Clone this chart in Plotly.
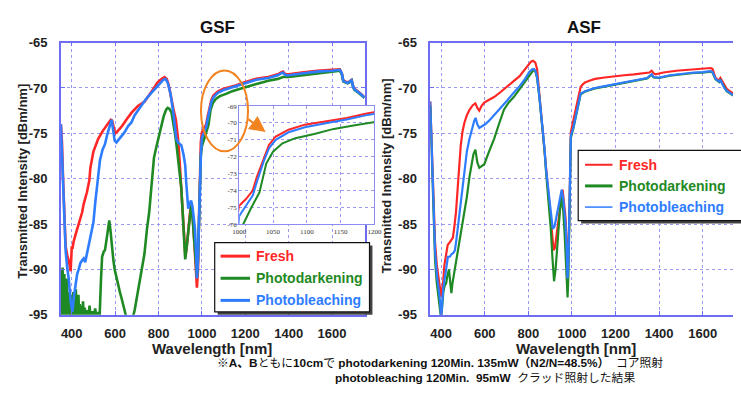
import plotly.graph_objects as go

W, H = 741, 394

# ---------------- GSF fiber spectra (wavelength [nm], intensity [dBm/nm]) ----------------
gsf_fresh_wl = [350, 355, 360, 365, 372, 380, 388, 395, 400, 404, 409, 422, 436, 448, 455, 470, 481,
                486, 500, 522, 544, 568, 580, 586, 592, 600, 610, 632, 655, 677, 705, 736, 768, 795,
                815, 828, 838, 846, 853, 860, 870, 880, 890, 897, 905, 913, 918, 924, 930, 940, 950,
                956, 962, 970, 977, 982, 987, 991, 995, 1000, 1010, 1020, 1026, 1036, 1044, 1054,
                1073, 1097, 1130, 1159, 1187, 1200, 1216, 1250, 1306, 1350, 1365, 1374, 1385, 1400,
                1460, 1532, 1600, 1636, 1645, 1652, 1672, 1680, 1690, 1697, 1703, 1720, 1740, 1750]
gsf_fresh_db = [-74.0, -76.0, -80.0, -84.0, -87.5, -88.5, -89.2, -90.2, -87.6, -87.6, -86.9, -85.8,
                -84.7, -83.7, -82.8, -81.5, -80.2, -78.8, -77.0, -75.6, -74.7, -73.8, -73.5, -73.6,
                -74.3, -75.0, -74.8, -74.2, -73.4, -72.7, -72.0, -71.5, -70.4, -69.4, -69.0, -68.8,
                -69.0, -69.6, -70.4, -71.4, -72.5, -73.5, -75.6, -78.0, -81.0, -84.5, -87.0, -88.6,
                -87.5, -85.0, -82.6, -83.5, -85.5, -89.0, -92.0, -90.0, -84.0, -79.0, -76.0, -74.9,
                -74.5, -74.0, -73.2, -72.1, -71.3, -70.8, -70.4, -70.1, -69.9, -69.7, -69.45, -69.35,
                -69.2, -69.0, -68.8, -68.5, -68.3, -68.2, -68.5, -68.5, -68.3, -68.1, -68.0, -67.95,
                -68.4, -69.2, -69.4, -69.3, -69.1, -69.8, -70.1, -70.4, -70.8, -71.0]

gsf_dark_wl = [350, 352, 354, 356, 358, 360, 362, 364, 366, 368, 370, 372, 374, 376, 378, 380, 383,
               386, 389, 392, 395, 398, 401, 404, 407, 410, 413, 416, 419, 422, 425, 428, 431, 434,
               437, 440, 444, 448, 452, 456, 460, 464, 470, 476, 482, 488, 494, 500, 508, 515, 522,
               528, 535, 540, 548, 553, 560, 567, 573, 579, 585, 592, 598, 605, 614, 622, 630, 638,
               645, 652, 665, 680, 690, 703, 718, 735, 747, 757, 765, 779, 790, 800, 812, 824, 835,
               842, 850, 860, 870, 877, 884, 891, 898, 905, 912, 918, 923, 930, 940, 950, 956, 962,
               970, 977, 982, 987, 991, 995, 1000, 1007, 1018, 1030, 1040, 1050, 1064, 1083, 1111,
               1140, 1169, 1187, 1200, 1216, 1260, 1306, 1350, 1374, 1400, 1460, 1532, 1600, 1636,
               1645, 1652, 1672, 1680, 1690, 1697, 1703, 1720, 1740, 1750]
gsf_dark_db = [-91.5, -95.5, -90.0, -94.0, -89.8, -95.5, -91.0, -94.5, -90.5, -95.5, -91.5, -94.0,
               -92.0, -95.5, -91.0, -95.5, -92.5, -95.5, -93.0, -95.5, -92.8, -95.5, -93.5, -95.5,
               -92.5, -95.5, -93.0, -95.5, -92.2, -94.5, -93.5, -95.5, -92.8, -95.5, -93.8, -95.5,
               -94.0, -95.5, -93.5, -95.5, -94.2, -95.5, -94.5, -95.5, -94.0, -95.5, -94.6, -95.5,
               -94.3, -95.5, -94.7, -95.5, -91.0, -88.6, -88.0, -87.9, -86.8, -85.8, -84.6, -85.8,
               -87.6, -89.0, -90.0, -90.8, -91.5, -92.5, -93.2, -94.0, -94.8, -95.3, -95.5, -95.4,
               -94.5, -92.6, -90.5, -88.3, -85.5, -83.7, -81.5, -77.7, -76.5, -75.6, -74.3, -73.1,
               -72.4, -72.2, -72.3, -72.7, -74.0, -75.2, -76.5, -78.0, -79.5, -81.0, -84.0, -87.5,
               -88.9, -87.5, -85.0, -83.0, -84.0, -86.0, -89.0, -90.8, -89.0, -84.0, -80.0, -77.5,
               -76.4, -75.9, -75.0, -74.1, -72.4, -71.7, -71.2, -70.9, -70.65, -70.35, -70.15, -70.0,
               -69.9, -69.8, -69.5, -69.2, -69.0, -68.8, -68.8, -68.6, -68.4, -68.2, -68.1, -68.5,
               -69.3, -69.5, -69.4, -69.2, -69.9, -70.2, -70.5, -70.9, -71.1]

gsf_bleach_wl = [350, 355, 360, 365, 372, 380, 386, 395, 403, 410, 418, 425, 432, 440, 448, 455, 462,
                 470, 478, 488, 500, 509, 518, 530, 542, 553, 563, 571, 578, 584, 590, 598, 606, 620,
                 643, 660, 675, 690, 705, 720, 740, 765, 790, 810, 822, 832, 842, 855, 862, 868, 876,
                 882, 890, 905, 915, 923, 928, 932, 937, 943, 950, 956, 962, 968, 973, 977, 981, 985,
                 990, 995, 1000, 1010, 1020, 1026, 1036, 1044, 1054, 1073, 1097, 1130, 1159, 1187,
                 1200, 1216, 1250, 1306, 1350, 1365, 1374, 1385, 1400, 1460, 1532, 1600, 1636, 1645,
                 1652, 1672, 1680, 1690, 1697, 1703, 1720, 1740, 1750]
gsf_bleach_db = [-74.0, -77.0, -81.0, -84.5, -88.0, -90.0, -91.0, -93.5, -94.7, -93.0, -91.5, -90.5,
                 -90.0, -89.3, -89.0, -88.8, -89.2, -88.3, -87.6, -86.2, -84.8, -82.5, -80.5, -78.0,
                 -76.8, -76.2, -75.2, -74.5, -73.8, -73.5, -74.5, -75.8, -76.0, -75.6, -74.9, -74.2,
                 -73.8, -73.0, -72.5, -71.9, -71.3, -70.6, -69.9, -69.4, -69.1, -69.0, -69.4, -70.6,
                 -71.6, -72.7, -74.3, -75.6, -76.0, -76.3, -77.3, -78.5, -80.5, -82.5, -83.3, -82.8,
                 -82.4, -83.0, -84.0, -85.5, -88.0, -91.0, -89.5, -86.0, -80.0, -77.5, -75.5, -74.9,
                 -74.3, -73.5, -72.3, -71.5, -71.0, -70.55, -70.25, -70.0, -69.8, -69.55, -69.45,
                 -69.3, -69.1, -68.9, -68.6, -68.4, -68.3, -68.6, -68.6, -68.4, -68.2, -68.1, -68.0,
                 -68.4, -69.25, -69.45, -69.35, -69.15, -69.85, -70.15, -70.45, -70.85, -71.05]

# ---------------- ASF fiber spectra ----------------
asf_fresh_wl = [350, 355, 360, 366, 372, 380, 388, 395, 400, 405, 409, 415, 422, 430, 440, 447, 454,
                461, 468, 476, 483, 490, 498, 507, 518, 530, 545, 557, 566, 575, 585, 598, 620, 643,
                670, 702, 730, 760, 780, 800, 812, 822, 832, 840, 850, 858, 867, 874, 881, 888, 895,
                903, 910, 916, 922, 930, 940, 948, 957, 963, 971, 976, 980, 984, 988, 991, 995, 1007,
                1015, 1024, 1032, 1040, 1050, 1060, 1080, 1106, 1150, 1195, 1240, 1285, 1330, 1355,
                1366, 1375, 1384, 1420, 1479, 1530, 1587, 1620, 1636, 1645, 1652, 1659, 1670, 1676,
                1681, 1688, 1699, 1710, 1721, 1740]
asf_fresh_db = [-71.5, -75.0, -79.0, -84.0, -87.0, -89.5, -91.0, -92.5, -93.0, -92.0, -91.5, -89.5,
                -88.3, -87.3, -87.0, -86.8, -86.5, -85.2, -83.7, -81.0, -78.5, -76.3, -74.8, -73.8,
                -73.0, -72.4, -71.9, -71.7, -72.2, -72.5, -72.0, -71.6, -71.3, -71.0, -70.5, -69.9,
                -69.3, -68.7, -68.1, -67.4, -67.1, -67.0, -67.2, -67.9, -70.6, -72.5, -74.5, -76.5,
                -78.8, -80.5, -82.0, -84.5, -86.8, -87.9, -87.6, -86.0, -84.4, -82.5, -81.2, -82.5,
                -84.4, -87.0, -90.8, -89.0, -83.0, -77.0, -74.9, -73.5, -72.6, -71.4, -70.5, -69.9,
                -69.6, -69.4, -69.2, -69.0, -68.85, -68.7, -68.6, -68.5, -68.4, -68.3, -68.1, -68.4,
                -68.5, -68.3, -68.1, -68.0, -67.9, -67.85, -67.8, -67.9, -68.5, -68.9, -69.1, -69.1,
                -68.9, -69.2, -69.8, -70.1, -70.3, -70.6]

asf_dark_wl = [350, 355, 360, 366, 372, 380, 388, 395, 400, 405, 410, 416, 423, 430, 436, 442, 447,
               452, 457, 463, 470, 478, 485, 495, 507, 518, 530, 540, 548, 557, 566, 575, 588, 598,
               620, 643, 665, 688, 710, 733, 755, 778, 800, 815, 827, 833, 840, 850, 858, 867, 874,
               881, 888, 895, 903, 910, 918, 925, 935, 945, 953, 960, 966, 971, 976, 980, 984, 988,
               991, 995, 1007, 1015, 1024, 1032, 1040, 1050, 1060, 1080, 1106, 1150, 1195, 1240,
               1285, 1330, 1345, 1355, 1366, 1375, 1400, 1450, 1510, 1560, 1600, 1636, 1645, 1652,
               1659, 1670, 1676, 1681, 1688, 1699, 1710, 1721, 1740]
asf_dark_db = [-72.0, -76.0, -81.0, -86.0, -89.0, -91.5, -93.0, -94.5, -95.5, -94.0, -92.5, -91.8,
               -91.5, -90.5, -90.0, -91.5, -92.6, -91.5, -90.8, -90.0, -88.8, -87.6, -86.5, -85.2,
               -83.7, -82.0, -79.8, -78.3, -77.3, -76.8, -78.2, -78.8, -78.6, -78.4, -77.0, -75.6,
               -74.0, -72.4, -71.6, -71.0, -70.3, -69.6, -68.8, -68.3, -68.0, -68.2, -68.9, -70.9,
               -72.7, -74.7, -76.8, -79.2, -81.0, -82.8, -85.5, -88.5, -91.3, -90.0, -86.5, -83.5,
               -82.0, -83.5, -85.8, -87.9, -90.5, -93.1, -90.5, -84.0, -78.5, -75.5, -74.4, -73.4,
               -72.3, -71.3, -70.7, -70.55, -70.4, -70.25, -70.05, -69.85, -69.65, -69.45, -69.25,
               -69.05, -68.95, -68.75, -68.55, -68.85, -68.9, -68.65, -68.45, -68.35, -68.3, -68.2,
               -68.3, -68.75, -69.05, -69.25, -69.35, -69.15, -69.45, -70.05, -70.35, -70.55, -70.85]

asf_bleach_wl = [350, 355, 360, 366, 372, 380, 388, 395, 400, 405, 410, 418, 425, 431, 440, 448, 455,
                 463, 470, 476, 483, 490, 498, 507, 518, 530, 542, 552, 558, 566, 575, 588, 602, 620,
                 643, 670, 702, 730, 760, 785, 805, 818, 825, 832, 840, 850, 858, 867, 874, 881, 888,
                 895, 903, 912, 920, 930, 940, 953, 960, 966, 971, 976, 980, 984, 988, 991, 995, 1007,
                 1015, 1024, 1032, 1040, 1050, 1060, 1080, 1106, 1150, 1195, 1240, 1285, 1330, 1345,
                 1355, 1366, 1375, 1400, 1450, 1510, 1560, 1600, 1636, 1645, 1652, 1659, 1670, 1676,
                 1681, 1688, 1699, 1710, 1721, 1740]
asf_bleach_db = [-71.5, -75.0, -80.0, -85.0, -88.0, -90.5, -92.0, -93.5, -95.5, -93.5, -92.0, -90.8,
                 -89.5, -88.6, -88.6, -88.3, -88.2, -87.9, -86.7, -85.5, -84.2, -82.6, -81.0, -78.8,
                 -77.0, -75.6, -74.4, -73.6, -73.3, -74.0, -74.4, -74.2, -74.0, -73.6, -73.0, -72.3,
                 -71.4, -70.6, -69.8, -69.0, -68.2, -67.95, -67.9, -68.1, -68.8, -70.8, -72.6, -74.6,
                 -76.6, -78.9, -80.5, -82.2, -84.2, -85.5, -85.3, -84.0, -82.8, -81.2, -82.2, -83.5,
                 -85.1, -88.0, -91.0, -89.0, -83.0, -78.0, -75.3, -74.3, -73.3, -72.2, -71.2, -70.6,
                 -70.5, -70.35, -70.2, -70.0, -69.8, -69.6, -69.4, -69.2, -69.0, -68.9, -68.7, -68.5,
                 -68.8, -68.85, -68.6, -68.4, -68.3, -68.25, -68.15, -68.25, -68.7, -69.0, -69.2,
                 -69.3, -69.1, -69.4, -70.0, -70.3, -70.5, -70.8]

# ---------------- axis ticks ----------------
x_ticks = [400, 600, 800, 1000, 1200, 1400, 1600]
y_ticks = [-65, -70, -75, -80, -85, -90, -95]
inset_x_ticks = [1000, 1050, 1100, 1150, 1200]
inset_y_ticks = [-69, -70, -71, -72, -73, -74, -75, -76]

series_names = ["Fresh", "Photodarkening", "Photobleaching"]

RED = "#ff2626"
GREEN = "#1f8a24"
BLUE = "#2f7dff"
ORANGE = "#f28321"
FRAME = "#6e6ef2"
GRID = "#9a9af2"
SANS = "Arial, Liberation Sans, sans-serif"


def px(x):
    return x / W


def py(y):
    return 1 - y / H


fig = go.Figure()

# main GSF panel
for wl, db, col in [(gsf_fresh_wl, gsf_fresh_db, RED),
                    (gsf_dark_wl, gsf_dark_db, GREEN),
                    (gsf_bleach_wl, gsf_bleach_db, BLUE)]:
    fig.add_trace(go.Scatter(x=wl, y=db, mode="lines", line=dict(color=col, width=2.6),
                             xaxis="x", yaxis="y", showlegend=False, hoverinfo="skip"))

# ASF panel
for wl, db, col in [(asf_fresh_wl, asf_fresh_db, RED),
                    (asf_dark_wl, asf_dark_db, GREEN),
                    (asf_bleach_wl, asf_bleach_db, BLUE)]:
    fig.add_trace(go.Scatter(x=wl, y=db, mode="lines", line=dict(color=col, width=2.2),
                             xaxis="x2", yaxis="y2", showlegend=False, hoverinfo="skip"))

# zoomed inset of the GSF 1000-1200 nm region
for wl, db, col in [(gsf_fresh_wl, gsf_fresh_db, RED),
                    (gsf_dark_wl, gsf_dark_db, GREEN),
                    (gsf_bleach_wl, gsf_bleach_db, BLUE)]:
    fig.add_trace(go.Scatter(x=wl, y=db, mode="lines", line=dict(color=col, width=2),
                             xaxis="x3", yaxis="y3", showlegend=False, hoverinfo="skip"))

tickfont = dict(family=SANS, size=13, color="#222222", weight="bold")


def main_x(domain, rng, anchor):
    return dict(domain=domain, range=rng, anchor=anchor, tickvals=x_ticks,
                ticktext=[str(t) for t in x_ticks], tickfont=tickfont,
                showgrid=True, gridcolor=GRID, griddash="dot", gridwidth=1,
                showline=True, linecolor=FRAME, linewidth=1.5, mirror="ticks",
                ticks="inside", ticklen=4, tickcolor=FRAME, zeroline=False,
                ticklabelstandoff=6)


def main_y(domain, anchor, mirror):
    return dict(domain=domain, range=[-95, -65], anchor=anchor, tickvals=y_ticks,
                ticktext=[str(t) for t in y_ticks], tickfont=tickfont,
                showgrid=True, gridcolor=GRID, griddash="dot", gridwidth=1,
                showline=True, linecolor=FRAME, linewidth=1.5, mirror=mirror,
                ticks="inside", ticklen=4, tickcolor=FRAME, zeroline=False,
                ticklabelstandoff=9)


ydom = [py(320), py(37)]
inset_font = dict(family="Liberation Serif, Times New Roman, serif", size=7, color="#333333")

fig.update_layout(
    width=W, height=H,
    margin=dict(l=0, r=0, t=0, b=0),
    paper_bgcolor="white", plot_bgcolor="white",
    xaxis=main_x([px(55), px(365)], [350, 1750], "y"),
    yaxis=main_y(ydom, "x", "ticks"),
    xaxis2=main_x([px(432), 1.0], [350, 1739], "y2"),
    yaxis2=main_y(ydom, "x2", False),
    xaxis3=dict(domain=[px(237), px(375)], range=[1000, 1200], anchor="y3",
                tickvals=inset_x_ticks, ticktext=[str(t) for t in inset_x_ticks],
                tickfont=inset_font, showgrid=True, gridcolor=GRID, griddash="dot",
                showline=True, linecolor="#8c8cf2", linewidth=1, mirror=True,
                ticks="", zeroline=False),
    yaxis3=dict(domain=[py(226), py(103)], range=[-76, -69], anchor="x3",
                tickvals=inset_y_ticks, ticktext=[str(t) for t in inset_y_ticks],
                tickfont=inset_font, showgrid=True, gridcolor=GRID, griddash="dot",
                showline=True, linecolor="#8c8cf2", linewidth=1, mirror=True,
                ticks="", zeroline=False),
)

ann = []
shapes = []

# panel titles
for label, xc in [("GSF", 215), ("ASF", 589)]:
    ann.append(dict(text=f"<b>{label}</b>", x=px(xc), y=py(21), xref="paper", yref="paper",
                    xanchor="center", yanchor="middle", showarrow=False,
                    font=dict(family=SANS, size=17, color="#111111")))

# axis titles
for xc in [209, 581]:
    ann.append(dict(text="<b>Wavelength [nm]</b>", x=px(xc), y=py(355), xref="paper", yref="paper",
                    xanchor="center", yanchor="middle", showarrow=False,
                    font=dict(family=SANS, size=15, color="#222222")))
for xc, yc in [(15, 181), (387, 176)]:
    ann.append(dict(text="<b>Transmitted Intensity [dBm/nm]</b>", x=px(xc), y=py(yc),
                    xref="paper", yref="paper", xanchor="center", yanchor="middle",
                    textangle=-90, showarrow=False,
                    font=dict(family=SANS, size=13, color="#222222")))

# orange highlight ellipse and arrow towards the inset
shapes.append(dict(type="circle", xref="paper", yref="paper", x0=px(198), x1=px(246),
                   y0=py(150), y1=py(66), line=dict(color=ORANGE, width=2)))
ann.append(dict(text="", x=px(264), y=py(130), xref="paper", yref="paper", showarrow=True,
                ax=-19, ay=-14, arrowhead=2, arrowsize=1.6, arrowwidth=2, arrowcolor=ORANGE))


# legend boxes
def legend_box(x0, y0, x1, y1, line_x0, line_x1, text_x, rows, widths):
    shapes.append(dict(type="rect", xref="paper", yref="paper", x0=px(x0 + 3), x1=px(x1 + 3),
                       y0=py(y1 + 3), y1=py(y0 + 3), line=dict(width=0), fillcolor="#444444"))
    shapes.append(dict(type="rect", xref="paper", yref="paper", x0=px(x0), x1=px(x1),
                       y0=py(y1), y1=py(y0), line=dict(color="#111111", width=1.2),
                       fillcolor="white"))
    for (name, col, yc), lw in zip(rows, widths):
        shapes.append(dict(type="line", xref="paper", yref="paper", x0=px(line_x0), x1=px(line_x1),
                           y0=py(yc), y1=py(yc), line=dict(color=col, width=lw)))
        ann.append(dict(text=f"<b>{name}</b>", x=px(text_x), y=py(yc), xref="paper", yref="paper",
                        xanchor="left", yanchor="middle", showarrow=False,
                        font=dict(family=SANS, size=14, color=col)))


colors = [RED, GREEN, BLUE]
legend_box(212, 245, 370, 317, 218, 248, 252,
           list(zip(series_names, colors, [259, 282, 305])), [3, 3, 3])
legend_box(583, 149, 760, 222, 590, 618, 623,
           list(zip(series_names, colors, [164, 186, 208])), [2, 3, 1.5])

# footnote
note_font = dict(family="Liberation Sans, Noto Sans CJK JP", size=11.8, color="#111111")
ann.append(dict(text="<b>※A、B</b>ともに<b>10cm</b>で <b>photodarkening 120Min. 135mW（N2/N=48.5%）</b>&nbsp; コア照射",
                x=px(212), y=py(370), xref="paper", yref="paper", xanchor="left", yanchor="middle",
                showarrow=False, font=note_font))
ann.append(dict(text="<b>photobleaching 120Min.&nbsp;&nbsp;95mW</b>&nbsp;&nbsp;クラッド照射した結果",
                x=px(333), y=py(386), xref="paper", yref="paper", xanchor="left", yanchor="middle",
                showarrow=False, font=note_font))

fig.update_layout(annotations=ann, shapes=shapes)
fig.write_html("out.html")
